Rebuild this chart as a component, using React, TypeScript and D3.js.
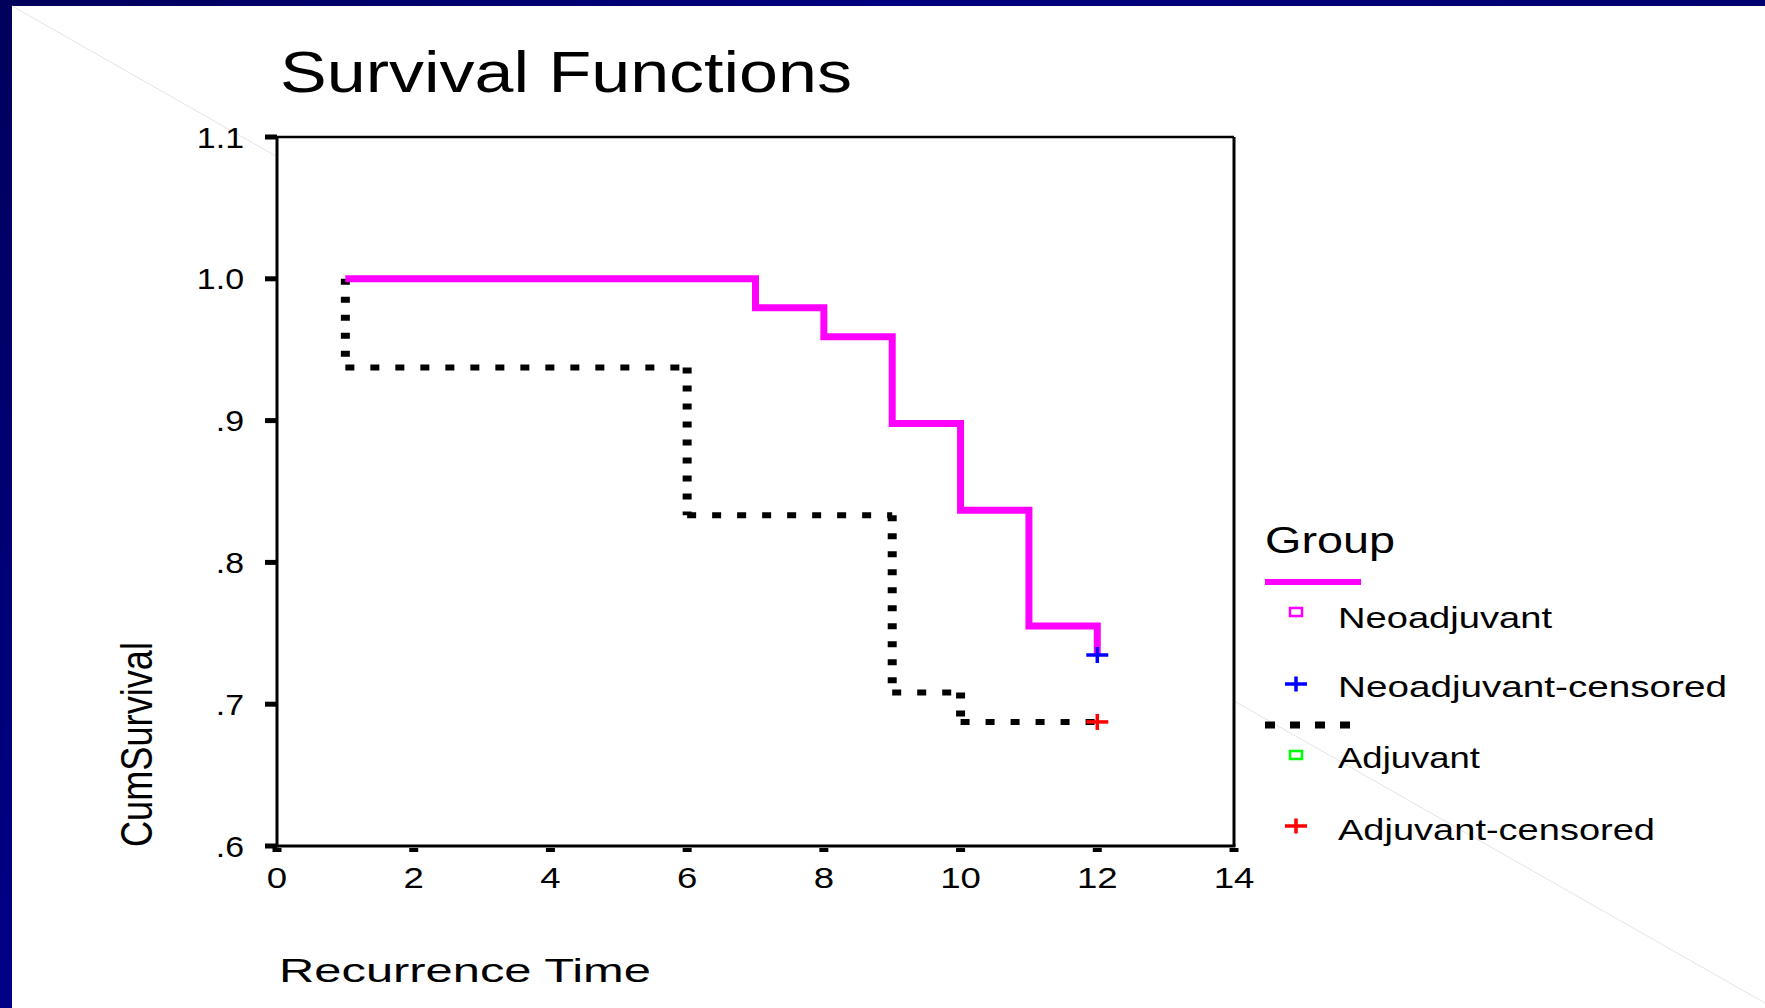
import React from 'react';
import * as d3 from 'd3';

// Kaplan-Meier estimates
const startTime = 1;
const censorTime = 12;
const neoTimes = [7, 8, 9, 10, 11, 12];
const neoSurvival = [0.9796, 0.9592, 0.898, 0.8367, 0.7551, 0.7347];
const adjTimes = [1, 6, 9, 10];
const adjSurvival = [0.9375, 0.8333, 0.7083, 0.6875];

const xTicks = [0, 2, 4, 6, 8, 10, 12, 14];
const yTicks = [0.6, 0.7, 0.8, 0.9, 1.0, 1.1];
const yTickLabels = ['.6', '.7', '.8', '.9', '1.0', '1.1'];

const legendItems = ['Neoadjuvant', 'Neoadjuvant-censored', 'Adjuvant', 'Adjuvant-censored'];

const W = 1765;
const H = 1008;
const FONT = '"Liberation Sans", Arial, sans-serif';

const x = d3.scaleLinear().domain([0, 14]).range([277, 1234]);
const y = d3.scaleLinear().domain([0.6, 1.1]).range([846, 137]);

// step vertices for the survival curves
function stepPoints(times: number[], surv: number[]): [number, number][] {
  const pts: [number, number][] = [[startTime, 1.0]];
  let prev = 1.0;
  times.forEach((t, i) => {
    pts.push([t, prev]);
    pts.push([t, surv[i]]);
    prev = surv[i];
  });
  if (times[times.length - 1] < censorTime) pts.push([censorTime, prev]);
  return pts;
}

const Plus = ({ cx, cy, color, w = 11, h = 8 }: any) => (
  <g stroke={color} strokeWidth={3.5}>
    <line x1={cx - w} x2={cx + w} y1={cy} y2={cy} />
    <line x1={cx} x2={cx} y1={cy - h} y2={cy + h} />
  </g>
);

const Stretch = ({ x0, y0, sx = 1.25, anchor = 'start', size = 28, children }: any) => (
  <g transform={`translate(${x0},${y0}) scale(${sx},1)`}>
    <text textAnchor={anchor} fontSize={size} fontFamily={FONT} fill="#000">
      {children}
    </text>
  </g>
);

export default function App() {
  const neoPts = stepPoints(neoTimes, neoSurvival);
  const adjPts = stepPoints(adjTimes, adjSurvival);

  const neoPath = d3
    .line<[number, number]>()
    .x((d) => x(d[0]))
    .y((d) => y(d[1]))(neoPts);

  // dotted adjuvant curve, split so horizontal and vertical runs get their own dash rhythm
  const adjSegs: any[] = [];
  for (let i = 1; i < adjPts.length; i++) {
    const a = adjPts[i - 1];
    const b = adjPts[i];
    if (a[0] === b[0] && a[1] === b[1]) continue;
    adjSegs.push({ x1: x(a[0]), y1: y(a[1]), x2: x(b[0]), y2: y(b[1]), vertical: a[0] === b[0] });
  }

  const neoLast = neoSurvival[neoSurvival.length - 1];
  const adjLast = adjSurvival[adjSurvival.length - 1];

  return (
    <svg width={W} height={H} style={{ position: 'absolute', left: 0, top: 0 }}>
      <defs>
        <linearGradient id="navy" x1="0" y1="0" x2="1" y2="0">
          <stop offset="0%" stopColor="#00005c" />
          <stop offset="50%" stopColor="#000080" />
          <stop offset="100%" stopColor="#000070" />
        </linearGradient>
        <linearGradient id="navyV" x1="0" y1="0" x2="0" y2="1">
          <stop offset="0%" stopColor="#00005c" />
          <stop offset="100%" stopColor="#000088" />
        </linearGradient>
      </defs>
      <rect width={W} height={H} fill="#fff" />
      <rect x={0} y={0} width={W} height={6} fill="url(#navy)" />
      <rect x={0} y={0} width={12} height={H} fill="url(#navyV)" />
      {/* faint slide diagonal */}
      <line x1={12} y1={6} x2={W} y2={1003} stroke="#e4e4e4" strokeWidth={1} />

      {/* title */}
      <text x={280} y={92} fontSize={58} fontFamily={FONT} textLength={572} lengthAdjust="spacingAndGlyphs">
        Survival Functions
      </text>

      {/* plot area */}
      <rect x={x(0)} y={y(1.1)} width={x(14) - x(0)} height={y(0.6) - y(1.1)} fill="#fff" />
      <line x1={x(0)} x2={x(14)} y1={y(1.1)} y2={y(1.1)} stroke="#000" strokeWidth={2.5} />
      <line x1={x(14)} x2={x(14)} y1={y(1.1)} y2={y(0.6)} stroke="#000" strokeWidth={3} />
      <line x1={x(0)} x2={x(0)} y1={y(1.1)} y2={y(0.6) + 1.5} stroke="#000" strokeWidth={3} />
      <line x1={x(0) - 1.5} x2={x(14) + 1.5} y1={y(0.6)} y2={y(0.6)} stroke="#000" strokeWidth={3} />

      {/* y ticks */}
      {yTicks.map((t, i) => (
        <g key={'y' + i}>
          <rect x={x(0) - 12} y={y(t) - 2.5} width={12} height={5} fill="#000" />
          <Stretch x0={244} y0={y(t) + 10.5} sx={1.15} anchor="end" size={29.5}>
            {yTickLabels[i]}
          </Stretch>
        </g>
      ))}

      {/* x ticks */}
      {xTicks.map((t) => (
        <g key={'x' + t}>
          <rect x={x(t) - 4.5} y={848} width={9} height={4} fill="#000" />
          <Stretch x0={x(t)} y0={888} sx={1.22} anchor="middle" size={30}>
            {t}
          </Stretch>
        </g>
      ))}

      {/* axis titles */}
      <text x={279} y={982} fontSize={34} fontFamily={FONT} textLength={372} lengthAdjust="spacingAndGlyphs">
        Recurrence Time
      </text>
      <text
        transform="translate(152,847) rotate(-90)"
        fontSize={44}
        fontFamily={FONT}
        textLength={205}
        lengthAdjust="spacingAndGlyphs"
      >
        CumSurvival
      </text>

      {/* curves */}
      {adjSegs.map((s, i) => (
        <line
          key={'a' + i}
          x1={s.x1}
          y1={s.y1}
          x2={s.x2}
          y2={s.y2}
          stroke="#000"
          strokeWidth={s.vertical ? 9 : 6}
          strokeDasharray={s.vertical ? '6 12' : '9 16'}
        />
      ))}
      <path d={neoPath || ''} fill="none" stroke="#ff00ff" strokeWidth={7} strokeLinejoin="miter" />
      <Plus cx={x(censorTime)} cy={y(neoLast)} color="#0000ff" />
      <Plus cx={x(censorTime)} cy={y(adjLast)} color="#ff0000" />

      {/* legend */}
      <text x={1265} y={553} fontSize={36} fontFamily={FONT} textLength={130} lengthAdjust="spacingAndGlyphs">
        Group
      </text>
      <line x1={1265} x2={1361} y1={582} y2={582} stroke="#ff00ff" strokeWidth={6} />
      <rect x={1290} y={608} width={12} height={8} fill="none" stroke="#ff00ff" strokeWidth={2.5} />
      <Plus cx={1296} cy={684} color="#0000ff" w={11} h={7.5} />
      <line x1={1265} x2={1365} y1={725} y2={725} stroke="#000" strokeWidth={7} strokeDasharray="10 15" />
      <rect x={1290} y={751} width={12} height={8} fill="none" stroke="#00ff00" strokeWidth={2.5} />
      <Plus cx={1296} cy={826} color="#ff0000" w={11} h={7.5} />
      {legendItems.map((label, i) => (
        <text
          key={label}
          x={1338}
          y={[628, 697, 768, 840][i]}
          fontSize={29}
          fontFamily={FONT}
          textLength={[214, 389, 142, 317][i]}
          lengthAdjust="spacingAndGlyphs"
        >
          {label}
        </text>
      ))}
    </svg>
  );
}
